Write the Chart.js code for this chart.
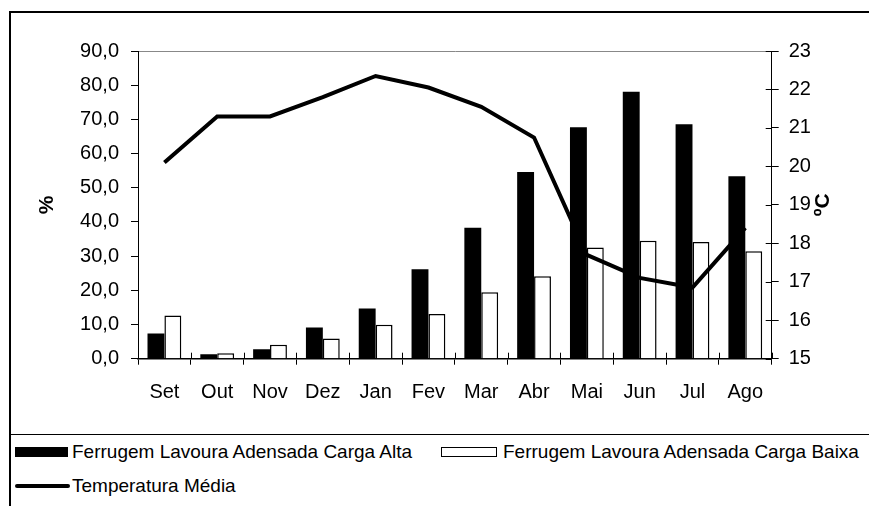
<!DOCTYPE html>
<html>
<head>
<meta charset="utf-8">
<script src="https://cdn.jsdelivr.net/npm/chart.js@4/dist/chart.umd.min.js"></script>
<style>
  body { margin: 0; background: #fff; width: 869px; height: 506px; overflow: hidden; position: relative;
         font-family: "Liberation Sans", Arial, sans-serif; }
  #frame { position: absolute; left: 9px; top: 11px; width: 900px; height: 493px;
           border-left: 2px solid #000; border-top: 2px solid #000; border-bottom: 1px solid #888; }
  #legTop { position: absolute; left: 10px; top: 434px; width: 860px; height: 1px; background: #000; }
  #grafico { position: absolute; left: 0; top: 0; }
  .leg { position: absolute; font-size: 19px; color: #000; white-space: nowrap; line-height: 20px; }
  .sw { position: absolute; }
</style>
</head>
<body>
<div id="frame"></div>
<div id="legTop"></div>
<canvas id="grafico" width="869" height="434"></canvas>
<div id="legenda"></div>

<script>
const meses = ["Set", "Out", "Nov", "Dez", "Jan", "Fev", "Mar", "Abr", "Mai", "Jun", "Jul", "Ago"];
const cargaAlta = [7.4, 1.3, 2.8, 9.1, 14.7, 26.2, 38.3, 54.6, 67.7, 78.1, 68.6, 53.4];
const cargaBaixa = [12.6, 1.6, 4.1, 5.9, 9.9, 13.1, 19.4, 24.1, 32.5, 34.5, 34.1, 31.4];
const temperatura = [20.1, 21.3, 21.3, 21.8, 22.35, 22.05, 21.55, 20.75, 17.7, 17.1, 16.85, 18.4];
const ticksPct = ["0,0", "10,0", "20,0", "30,0", "40,0", "50,0", "60,0", "70,0", "80,0", "90,0"];
const ticksTemp = ["15", "16", "17", "18", "19", "20", "21", "22", "23"];

const fonteTicks = { family: "Liberation Sans", size: 20 };

// traços que cruzam o eixo (parte interna) e títulos dos eixos
const extras = {
  id: "extras",
  afterDraw(chart) {
    const ctx = chart.ctx;
    const area = chart.chartArea;
    const x = chart.scales.x;
    const y1 = chart.scales.y1;
    ctx.save();
    ctx.strokeStyle = "#000";
    ctx.lineWidth = 1;
    ctx.beginPath();
    for (let i = 0; i <= meses.length; i++) {
      const px = Math.round(x.getPixelForValue(i - 0.5)) + 0.5;
      ctx.moveTo(px, area.bottom - 6);
      ctx.lineTo(px, area.bottom);
    }
    for (let v = 15; v <= 23; v++) {
      const py = Math.round(y1.getPixelForValue(v)) + 0.5;
      ctx.moveTo(area.right - 6, py);
      ctx.lineTo(area.right, py);
    }
    ctx.stroke();

    ctx.fillStyle = "#000";
    ctx.font = "bold 21px 'Liberation Sans'";
    ctx.textAlign = "center";
    ctx.textBaseline = "middle";
    const meio = (area.top + area.bottom) / 2;
    ctx.translate(47, meio);
    ctx.rotate(-Math.PI / 2);
    ctx.fillText("%", 0, 0);
    ctx.rotate(Math.PI / 2);
    ctx.translate(823 - 47, 0);
    ctx.rotate(-Math.PI / 2);
    ctx.fillText("ºC", 0, 0);
    ctx.restore();
  }
};

const grafico = new Chart(document.getElementById("grafico"), {
  data: {
    labels: meses,
    datasets: [
      {
        type: "line",
        label: "Temperatura Média",
        data: temperatura,
        yAxisID: "y1",
        borderColor: "#000",
        borderWidth: 4,
        pointRadius: 0,
        tension: 0,
        order: 0
      },
      {
        type: "bar",
        label: "Ferrugem Lavoura Adensada Carga Alta",
        data: cargaAlta,
        yAxisID: "y",
        backgroundColor: "#000",
        borderWidth: 0,
        categoryPercentage: 0.64,
        barPercentage: 1,
        order: 1
      },
      {
        type: "bar",
        label: "Ferrugem Lavoura Adensada Carga Baixa",
        data: cargaBaixa,
        yAxisID: "y",
        backgroundColor: "#fff",
        borderColor: "#000",
        borderWidth: 1.5,
        categoryPercentage: 0.64,
        barPercentage: 1,
        order: 1
      }
    ]
  },
  options: {
    responsive: false,
    animation: false,
    layout: { padding: { top: 51, bottom: 25.3, left: 0, right: 0 } },
    plugins: { legend: { display: false }, tooltip: { enabled: false } },
    scales: {
      x: {
        grid: { offset: true, drawOnChartArea: false, tickLength: 6, tickColor: "#000" },
        border: { color: "#000", width: 1.5 },
        ticks: { color: "#000", font: fonteTicks, padding: 16, maxRotation: 0 },
        afterFit(s) { s.height = 50; }
      },
      y: {
        position: "left",
        min: 0,
        max: 90,
        grid: {
          color: c => (c.tick && c.tick.value === 90 ? "#888" : "rgba(0,0,0,0)"),
          tickColor: "#000",
          tickLength: 7
        },
        border: { color: "#000", width: 1 },
        ticks: { stepSize: 10, color: "#000", font: fonteTicks, padding: 12,
                 callback: (v, i) => ticksPct[i] },
        afterFit(s) { s.width = 138; }
      },
      y1: {
        position: "right",
        min: 15,
        max: 23,
        grid: { drawOnChartArea: false, tickColor: "#000", tickLength: 7 },
        border: { color: "#000", width: 1 },
        ticks: { stepSize: 1, color: "#000", font: fonteTicks, padding: 10,
                 callback: (v, i) => ticksTemp[i] },
        afterFit(s) { s.width = 97.3; }
      }
    }
  },
  plugins: [extras]
});

// legenda em duas linhas, como na figura
function montarLegenda() {
  const ds = grafico.data.datasets;
  const leg = document.getElementById("legenda");
  leg.innerHTML = `
    <div class="sw" style="left:15px;top:447px;width:53px;height:10px;background:#000"></div>
    <div class="leg" style="left:72px;top:442px">${ds[1].label}</div>
    <div class="sw" style="left:441px;top:447px;width:54px;height:8px;border:1px solid #000;background:#fff"></div>
    <div class="leg" style="left:503px;top:442px">${ds[2].label}</div>
    <div class="sw" style="left:15px;top:484px;width:55px;height:4px;background:#000;border-radius:2px"></div>
    <div class="leg" style="left:72px;top:476px">${ds[0].label}</div>`;
}
montarLegenda();
</script>
</body>
</html>
